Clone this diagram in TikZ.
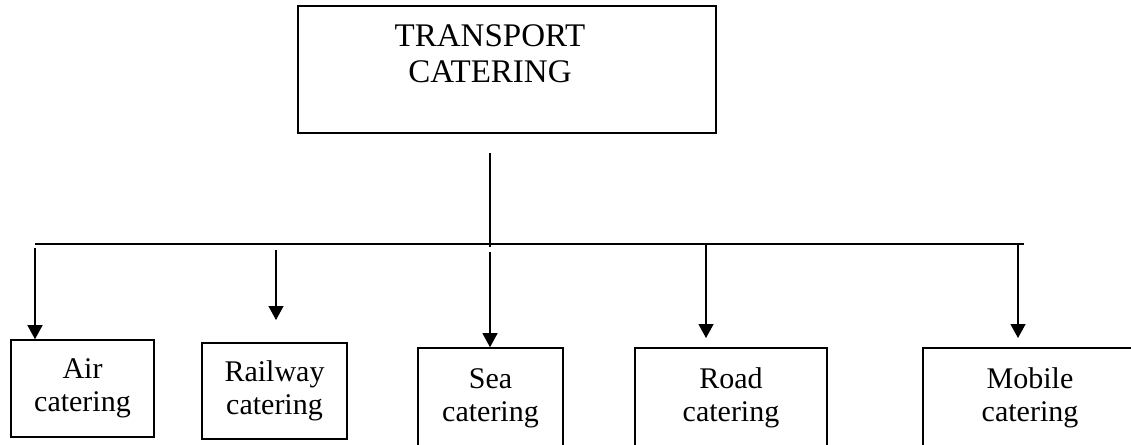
\documentclass[tikz,border=0pt]{standalone}
\usepackage{fontspec}
\setmainfont{Liberation Serif}
\usepackage{tikz}
\usetikzlibrary{arrows.meta,positioning,calc}
\newcommand{\headfont}{\fontsize{33}{36}\selectfont}
\newcommand{\catfont}{\fontsize{30}{33}\selectfont}
\tikzset{
  headbox/.style={draw=black,line width=1.6pt,minimum width=418pt,minimum height=127pt,inner sep=0pt},
  catbox/.style={draw=black,line width=1.6pt,inner sep=0pt,align=center,font=\catfont},
  link/.style={line width=1.3pt,black},
  down/.style={-{Triangle[length=14pt,width=15pt]},line width=1.3pt,black},
}

\begin{document}
\begin{tikzpicture}[x=1pt,y=-1pt]
  \useasboundingbox (0,0) rectangle (1131,444);
  \node[headbox] (head) at (507,69.5) {};
  \node[font=\headfont,align=center,inner sep=0pt] (headtxt) at (490,54) {TRANSPORT\\CATERING};
  \node[catbox,minimum width=143pt,minimum height=97pt] (air) at (82.5,388.5) {Air\\catering};
  \node[catbox,minimum width=145pt,minimum height=96pt] (rail) at (274.5,391) {Railway\\catering};
  \node[catbox,minimum width=145pt,minimum height=100pt] (sea) at (490.5,398) {Sea\\catering};
  \node[catbox,minimum width=192pt,minimum height=100pt] (road) at (731,398) {Road\\catering};
  \node[catbox,minimum width=214pt,minimum height=100pt] (mob) at (1030,398) {Mobile\\catering};
  \coordinate (stem) at (490,153);
  \coordinate (busL) at (35,244);
  \coordinate (busR) at (1024,244);
  \coordinate (busX) at (367,244);
  \draw[link] (stem) -- ($(stem |- busL)+(0,3)$);
  \draw[link] (busL) -- (busR);
  \draw[link,line width=2pt] (busX) -- (stem |- busL);
  \coordinate (airT) at (35,248);
  \coordinate (railT) at (276,250);
  \coordinate (railB) at (276,320);
  \coordinate (seaT) at (490,252);
  \coordinate (roadT) at (706,244);
  \coordinate (roadB) at (706,338);
  \coordinate (mobT) at (1018,244);
  \coordinate (mobB) at (1018,338);
  \draw[down] (airT) -- (airT |- air.north);
  \draw[down] (railT) -- (railB);
  \draw[down] (seaT) -- (seaT |- sea.north);
  \draw[down] (roadT) -- (roadB);
  \draw[down] (mobT) -- (mobB);
\end{tikzpicture}
\end{document}
